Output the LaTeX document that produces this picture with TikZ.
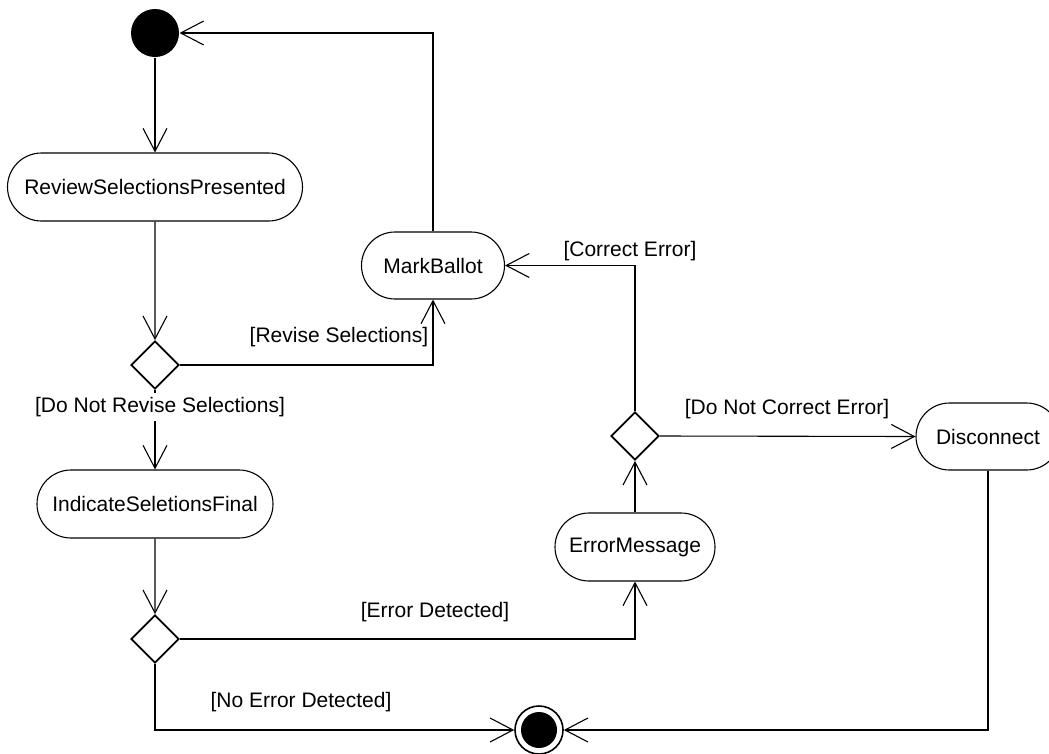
\documentclass[tikz,border=0pt]{standalone}
\usepackage{fontspec}
\setmainfont{Liberation Sans}
\usetikzlibrary{arrows.meta,shapes.geometric,shapes.misc}
\begin{document}
\begin{tikzpicture}[x=1pt,y=-1pt,
  font=\fontsize{21}{25}\selectfont,
  line width=1.1pt,
  act/.style={draw,rounded rectangle,minimum height=68pt,inner sep=0pt},
  dec/.style={draw,diamond,minimum width=48pt,minimum height=48pt,inner sep=0pt,line width=1.8pt},
  flow/.style={-{Straight Barb[length=23pt,width=24pt]}},
  lbl/.style={inner sep=1pt}]
\clip (0,0) rectangle (1049,753);
\fill[white] (0,0) rectangle (1049,753);
% nodes
\node[circle,fill=black,minimum size=48pt,inner sep=0pt] (init) at (155,33) {};
\node[act,minimum width=295pt] (review) at (155,187) {ReviewSelectionsPresented};
\node[dec] (d1) at (155,365) {};
\node[act,minimum width=143pt,minimum height=67pt] (mark) at (433,265.5) {MarkBallot};
\node[act,minimum width=236pt] (indicate) at (155,504) {IndicateSeletionsFinal};
\node[dec] (d2) at (155,639) {};
\node[act,minimum width=160pt] (errmsg) at (635,547) {ErrorMessage};
\node[dec] (d3) at (635,436) {};
\node[act,minimum width=144pt,minimum height=67pt] (disc) at (988,436.5) {Disconnect};
\node[circle,draw,line width=1.6pt,minimum size=48pt,inner sep=0pt] (final) at (539,730) {};
\fill[black] (final.center) circle (18pt);
% connectors
\draw[flow] (init) -- (review);
\draw[flow] (review) -- (d1);
\draw[flow] (d1.east) -| (mark.south);
\node[lbl] (lrev) at (339,337) {[Revise Selections]};
\draw[flow] (d1.south) -- (indicate.north);
\node[lbl,fill=white,inner sep=4pt] (ldnr) at (160,407) {[Do Not Revise Selections]};
\draw[flow] (indicate) -- (d2);
\draw[flow] (d2.east) -| (errmsg.south);
\node[lbl] (lerr) at (435,612) {[Error Detected]};
\draw[flow] (d2.south) |- (final.west);
\node[lbl] (lnoerr) at (301,702) {[No Error Detected]};
\draw[flow] (disc.south) |- (final.east);
\draw[flow] (errmsg.north) -- (d3.south);
\draw[flow] (d3.north) |- (mark.east);
\node[lbl] (lcor) at (630,251) {[Correct Error]};
\draw[flow] (d3.east) -- (disc.west);
\node[lbl] (ldnc) at (787,409) {[Do Not Correct Error]};
\draw[flow] (mark.north) |- (init.east);
\end{tikzpicture}
\end{document}
